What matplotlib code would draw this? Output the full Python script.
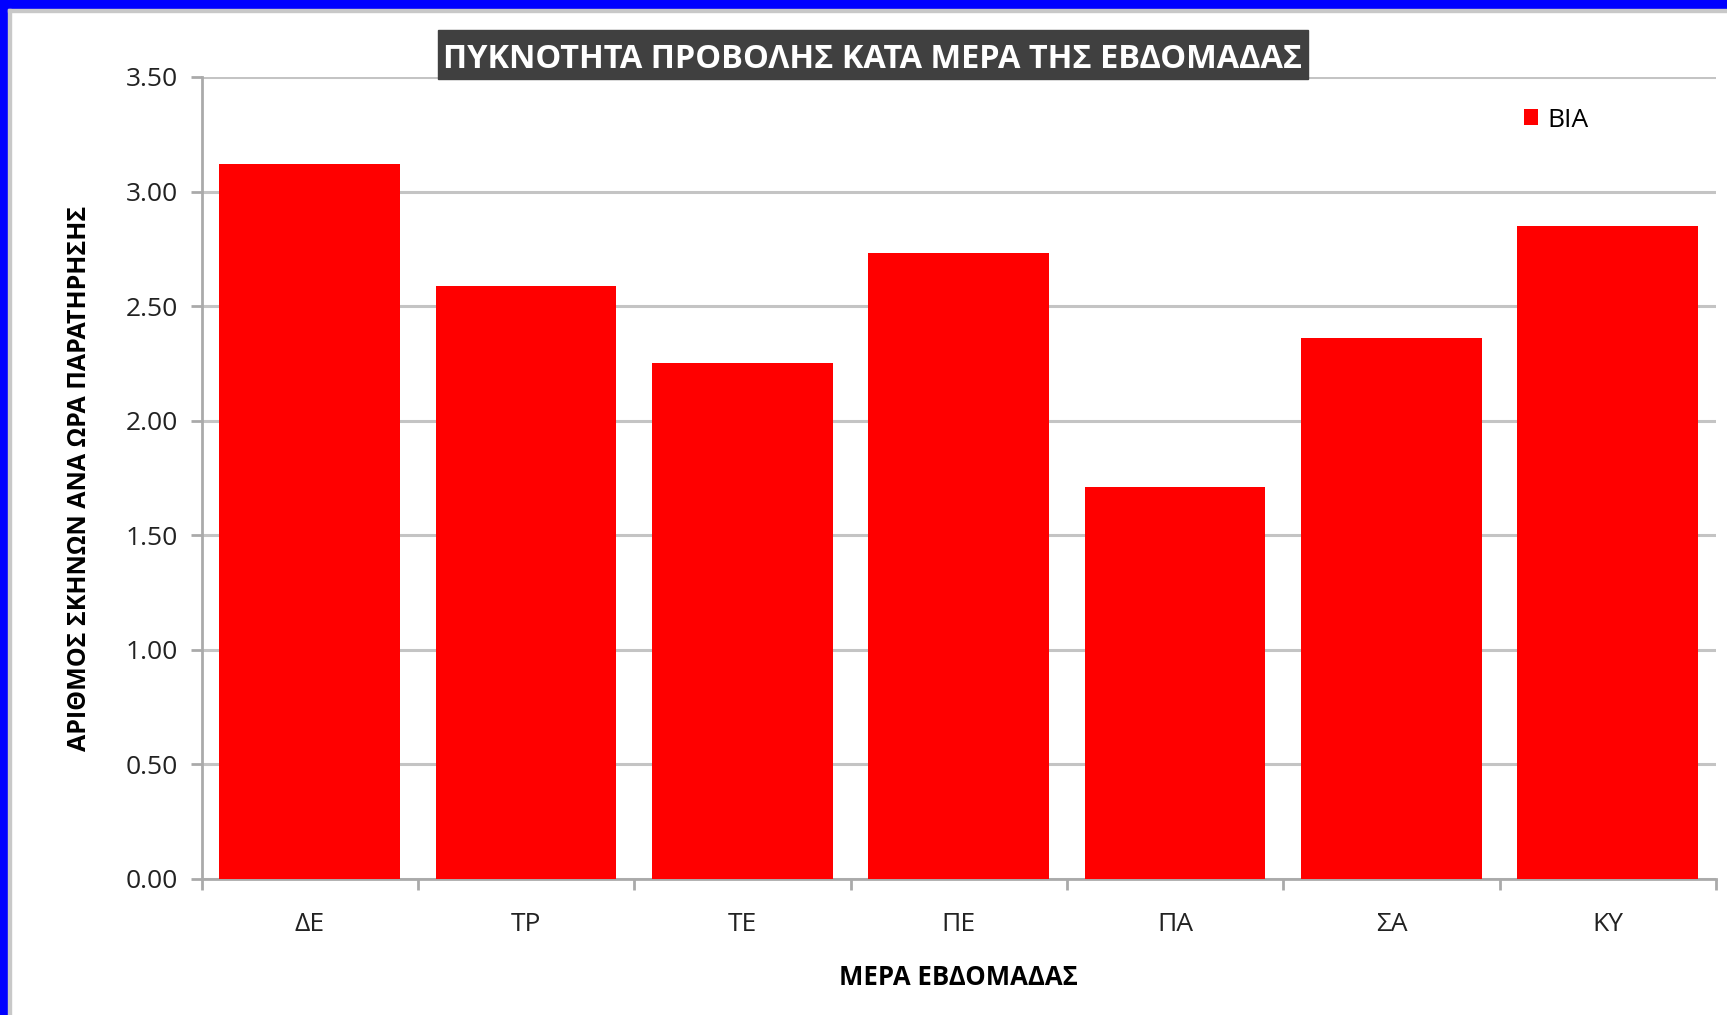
import matplotlib.pyplot as plt
import matplotlib.patches as mpatches

days = ['ΔΕ', 'ΤΡ', 'ΤΕ', 'ΠΕ', 'ΠΑ', 'ΣΑ', 'ΚΥ']
violence = [3.12, 2.59, 2.25, 2.73, 1.71, 2.36, 2.85]
series_name = 'ΒΙΑ'
yticks = [0, 0.5, 1.0, 1.5, 2.0, 2.5, 3.0, 3.5]

plt.rcParams['font.family'] = ['Open Sans', 'DejaVu Sans']

W, H = 1727, 1015
fig = plt.figure(figsize=(W / 100, H / 100), dpi=100)
ax = fig.add_axes([201.5 / W, 1 - 879 / H, (1716 - 201.5) / W, (879 - 77) / H])

x = range(len(days))
ax.bar(x, violence, width=0.835, color='#ff0000', label=series_name, zorder=3)

ax.set_xlim(-0.5, len(days) - 0.5)
ax.set_ylim(0, 3.5)
ax.set_yticks(yticks)
ax.set_yticklabels([f'{v:.2f}' for v in yticks], fontsize=19, color='#222222')
ax.set_xticks(list(x))
ax.set_xticklabels(days, fontsize=19, color='#222222')
ax.set_xticks([i + 0.5 for i in range(-1, len(days))], minor=True)
ax.tick_params(axis='x', which='major', length=0, pad=24)
ax.tick_params(axis='x', which='minor', length=8, width=2, color='#aaaaaa')
ax.tick_params(axis='y', length=8, width=2, color='#aaaaaa', pad=9)

ax.grid(axis='y', color='#c4c4c4', linewidth=2.2, zorder=0)
for s in ['top', 'right']:
    ax.spines[s].set_visible(False)
for s in ['left', 'bottom']:
    ax.spines[s].set_color('#aaaaaa')
    ax.spines[s].set_linewidth(2)

ax.set_xlabel('ΜΕΡΑ ΕΒΔΟΜΑΔΑΣ', fontsize=18.5, fontweight='bold', labelpad=19)
ax.set_ylabel('ΑΡΙΘΜΟΣ ΣΚΗΝΩΝ ΑΝΑ ΩΡΑ ΠΑΡΑΤΗΡΗΣΗΣ', fontsize=18, fontweight='bold', labelpad=24)

# title in a dark box
fig.patches.append(mpatches.Rectangle((438 / W, 1 - 79 / H), 870 / W, 49 / H,
                                      transform=fig.transFigure, color='#404040', zorder=5))
fig.text(873 / W, 1 - 60 / H, 'ΠΥΚΝΟΤΗΤΑ ΠΡΟΒΟΛΗΣ ΚΑΤΑ ΜΕΡΑ ΤΗΣ ΕΒΔΟΜΑΔΑΣ',
         ha='center', va='center', fontsize=23.4, fontweight='bold', color='white', zorder=6)

leg = ax.legend(loc='upper left', bbox_to_anchor=(1500 / W, 1 - 84 / H), bbox_transform=fig.transFigure,
                frameon=False, fontsize=19, handlelength=0.55, handleheight=0.55, handletextpad=0.35)

# blue frame on top and left, thin gray line inside
fig.patches.append(mpatches.Rectangle((0, 1 - 9 / H), 1, 9 / H, transform=fig.transFigure, color='#0000ff'))
fig.patches.append(mpatches.Rectangle((0, 0), 8 / W, 1, transform=fig.transFigure, color='#0000ff'))
fig.patches.append(mpatches.Rectangle((8 / W, 1 - 12 / H), 1, 3 / H, transform=fig.transFigure, color='#c8c8c8'))
fig.patches.append(mpatches.Rectangle((8 / W, 0), 3 / W, 1 - 9 / H, transform=fig.transFigure, color='#c8c8c8'))

fig.savefig('out.png', dpi=100)
